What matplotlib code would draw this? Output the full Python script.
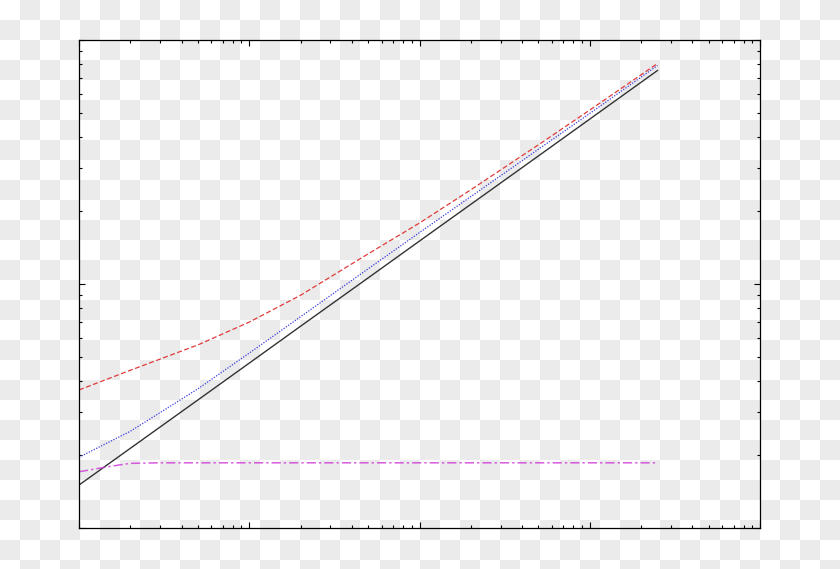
"""Log-log comparison of three approximations against the sqrt reference line."""
import matplotlib
matplotlib.use("Agg")
import matplotlib.pyplot as plt
import numpy as np

# values (log-log axes, x 1..1e4, y 1..100)
x_pts = [1, 2, 5, 10, 20, 50, 100, 200, 500, 1000, 2500]
y_exact = [1.50, 2.12, 3.35, 4.74, 6.71, 10.6, 15.0, 21.2, 33.5, 47.4, 75.0]
y_red = [3.68, 4.43, 5.63, 6.98, 8.99, 13.30, 17.78, 24.32, 37.21, 51.63, 80.1]
y_blue = [1.95, 2.49, 3.72, 5.21, 7.34, 11.55, 16.25, 22.8, 35.7, 50.0, 78.6]
x_mag = [1, 1.33, 1.7, 2, 3, 5, 10, 100, 1000, 2500]
y_mag = [1.70, 1.76, 1.81, 1.84, 1.85, 1.85, 1.85, 1.85, 1.85, 1.85]

W, H = 840, 569
fig = plt.figure(figsize=(W / 100, H / 100), dpi=100)

# transparency checkerboard behind the plot (20 px squares)
rr, cc = np.indices((H, W))
board = np.where(((rr // 20) + (cc // 20)) % 2 == 0, 1.0, 0.925)
fig.figimage(np.dstack([board] * 3), xo=0, yo=0, origin="upper", zorder=-10)

ax = fig.add_axes([79 / W, 41 / H, 681 / W, 488 / H])
ax.set_zorder(5)
ax.set_facecolor("none")

ax.plot(x_pts, y_exact, color="#333333", linewidth=1.0, linestyle="-")
ax.plot(x_pts, y_red, color="#e03a3a", linewidth=0.9, linestyle=(0, (4, 2)))
ax.plot(x_pts, y_blue, color="#3a3ae0", linewidth=0.9, linestyle=(0, (1, 1.2)))
ax.plot(x_mag, y_mag, color="#d040d8", linewidth=1.1, linestyle=(0, (6, 2, 1.5, 2)),
        alpha=0.85)

ax.set_xscale("log")
ax.set_yscale("log")
ax.set_xlim(1, 1e4)
ax.set_ylim(1, 100)

ax.tick_params(which="both", direction="in", top=True, right=True,
               labelbottom=False, labelleft=False, color="black", width=0.8)
ax.tick_params(which="major", length=4.5)
ax.tick_params(which="minor", length=2.2)
for sp in ax.spines.values():
    sp.set_linewidth(0.9)
    sp.set_color("black")

fig.savefig("out.png", dpi=100)
plt.close(fig)
